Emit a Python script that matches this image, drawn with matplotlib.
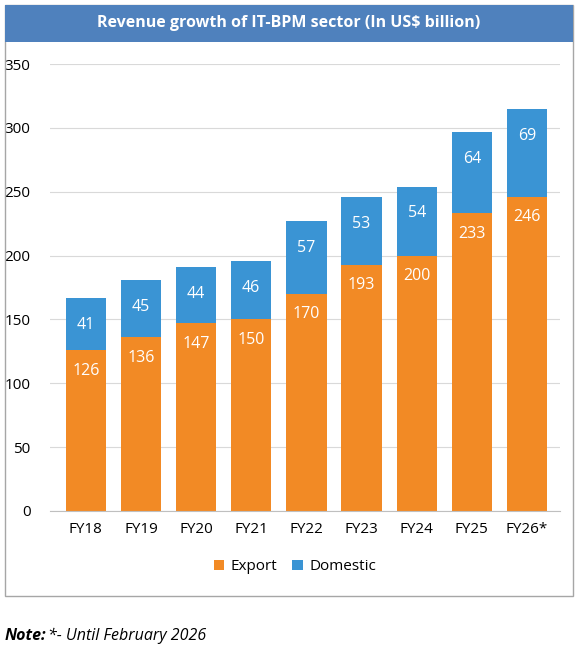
import matplotlib
matplotlib.use("Agg")
import matplotlib.pyplot as plt
from matplotlib.patches import Rectangle

years = ["FY18","FY19","FY20","FY21","FY22","FY23","FY24","FY25","FY26*"]
export = [126,136,147,150,170,193,200,233,246]
domestic = [41,45,44,46,57,53,54,64,69]

W, H = 578, 650
fig = plt.figure(figsize=(W/100, H/100), dpi=100)
plt.rcParams['font.family'] = ['Open Sans', 'DejaVu Sans']

# frame and title banner
fig.patches.append(Rectangle((5/W, 1-596/H), 568/W, 591/H, transform=fig.transFigure,
                             fill=False, edgecolor='#A6A6A6', lw=1))
fig.patches.append(Rectangle((5/W, 1-42/H), 568/W, 37/H, transform=fig.transFigure,
                             facecolor='#4F81BD', edgecolor='none'))
fig.text(0.5, 1-23/H, "Revenue growth of IT-BPM sector (In US$ billion)", color='white',
         fontsize=11.5, fontweight='bold', ha='center', va='center')

ax = fig.add_axes([50/W, 1-511/H, 510/W, 447/H])
x = range(len(years))
ax.bar(x, export, width=0.73, color='#F28A25', label='Export', zorder=2)
ax.bar(x, domestic, bottom=export, width=0.73, color='#3A94D4', label='Domestic', zorder=2)
for i in x:
    ax.text(i, export[i]-16, str(export[i]), ha='center', va='center', color='white', fontsize=11.5)
    ax.text(i, export[i]+domestic[i]-21, str(domestic[i]), ha='center', va='center', color='white', fontsize=11.5)
ax.set_ylim(0, 350)
ax.set_yticks(range(0, 351, 50))
ax.set_xlim(-0.65, 8.6)
ax.set_xticks(list(x))
ax.set_xticklabels(years)
ax.grid(axis='y', color='#D9D9D9', lw=0.8, zorder=0)
for s in ['top', 'right', 'left']:
    ax.spines[s].set_visible(False)
ax.spines['bottom'].set_color('#BFBFBF')
ax.tick_params(axis='both', length=0, labelsize=11, colors='#000000')
ax.tick_params(axis='x', pad=8)
ax.tick_params(axis='y', pad=14)
ax.legend(loc='center', bbox_to_anchor=(0.48, -0.125), ncol=2, frameon=False,
          fontsize=11, handlelength=0.7, handleheight=0.7, columnspacing=1.0, handletextpad=0.4)

fig.text(5/W, 1-636/H, "Note:", fontsize=11.5, fontweight='bold', style='italic', va='center')
fig.text(48/W, 1-636/H, "*- Until February 2026", fontsize=11.5, style='italic', va='center')

fig.savefig("out.png", dpi=100)
